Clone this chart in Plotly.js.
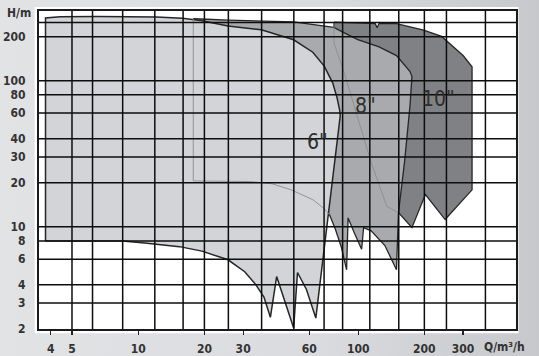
<!DOCTYPE html>
<html><head><meta charset="utf-8">
<script src="https://cdn.plot.ly/plotly-3.0.1.min.js"></script>
<style>html,body{margin:0;padding:0;background:#dcdde0;}#chart{width:539px;height:356px;}</style>
</head><body><div id="chart"></div>
<script>
// Operating range of 6" pumps: flow Q (m3/h), head H (m)
const q6 = [3.79, 3.79, 4.41, 6.56, 12.1, 15.9, 19.5, 25.6, 36.3, 50.9, 62.2, 70.1, 76.6, 80.2, 82.4, 82.9, 64.2, 58.2, 53.0, 50.9, 42.6, 39.9, 37.3, 34.3, 30.5, 25.6, 19.5, 15.4, 10.7, 8.47, 3.79];
const h6 = [8, 268.6, 273.5, 274.7, 273.1, 267.4, 257.5, 237.1, 223.2, 190.5, 156.7, 125.9, 96.6, 76.3, 63.0, 57.5, 2.37, 3.72, 4.86, 2.03, 4.56, 2.40, 3.30, 4.0, 4.92, 5.94, 6.81, 7.31, 7.74, 8, 8];
// Operating range of 8" pumps
const q8 = [17.8, 17.8, 32.1, 40.6, 49.6, 62.3, 70.1, 74.1, 78.8, 83.8, 88.6, 90.0, 95.7, 103.7, 105.9, 114.6, 132.3, 149.4, 152.5, 162.6, 172.2, 175.6, 172.2, 149.4, 124.5, 99.7, 86.1, 77.5, 50.9, 36.3, 25.6, 20.6, 17.8];
const h8 = [265.4, 20.6, 20.4, 19.7, 17.9, 15.3, 13.3, 12.1, 9.62, 7.27, 5.07, 11.5, 9.21, 7.02, 9.86, 9.38, 7.44, 5.07, 12.5, 27.9, 68.2, 106.7, 115.6, 148.6, 170.2, 191.1, 213.3, 231.8, 252.9, 255.6, 259.5, 263.4, 265.4];
// Operating range of 10" pumps
const q10 = [77.6, 94.0, 119.6, 122.0, 124.5, 149.4, 198.4, 239.5, 263.0, 300, 329.5, 329.5, 248.6, 202.2, 175.6, 152.5, 135.0, 114.3, 96.8, 86.1, 77.6, 77.6];
const h10 = [251.8, 250.0, 245.5, 230.0, 246.9, 245.5, 222.2, 200.9, 177.3, 148.6, 124.6, 17.9, 11.2, 16.6, 9.86, 12.5, 13.8, 27.9, 63.2, 115.6, 181.6, 251.8];

const sizeLabels = ['6"', '8"', '10"'];
const labelQ = [65, 107.6, 231.6];
const labelH = [38.3, 67.1, 75.0];

const xTicks = [4, 5, 10, 20, 30, 60, 100, 200, 300];
const xTickText = ['4', '5', '10', '20', '30', '60', '100', '200', '300'];
const yTicks = [2, 3, 4, 6, 8, 10, 20, 30, 40, 60, 80, 100, 200];
const yTickText = ['2', '3', '4', '6', '8', '10', '20', '30', '40', '60', '80', '100', '200'];
const xGrid = [5, 6.2, 8.5, 11.9, 16, 20, 25.7, 36.4, 51, 70, 85, 113, 153, 200, 252, 379];
const yGrid = [3, 4, 6, 8, 10, 20, 30, 40, 60, 80, 100, 200, 250];

const FONT = "'Liberation Sans Narrow', 'DejaVu Sans Condensed', 'Roboto', sans-serif";
const edge = '#262626';

const traces = [
  {x: q10, y: h10, mode: 'lines', fill: 'toself', fillcolor: '#808184', line: {color: edge, width: 1.3}, hoverinfo: 'skip'},
  {x: q8, y: h8, mode: 'lines', fill: 'toself', fillcolor: '#a9aaad', line: {color: edge, width: 1.3}, hoverinfo: 'skip'},
  {x: q6, y: h6, mode: 'lines', fill: 'toself', fillcolor: '#d3d4d7', line: {color: edge, width: 1.5}, hoverinfo: 'skip'},
  {x: q8.slice(0, 8), y: h8.slice(0, 8), mode: 'lines', line: {color: '#8c8c8f', width: 0.9}, hoverinfo: 'skip'},
  {x: q10.slice(15), y: h10.slice(15), mode: 'lines', line: {color: '#8c8c8f', width: 0.9}, hoverinfo: 'skip'}
];

const shapes = [
  {type: 'rect', xref: 'paper', yref: 'paper', x0: -4.3/477, x1: 1 + 2.5/477, y0: -4.3/318, y1: 1 + 4/318, fillcolor: '#ffffff', line: {width: 0}, layer: 'below'}
];
xGrid.forEach(v => shapes.push({type: 'line', xref: 'x', yref: 'paper', x0: v, x1: v, y0: 0, y1: 1, line: {color: '#0d0d0d', width: 1.5}, layer: 'above'}));
yGrid.forEach(v => shapes.push({type: 'line', xref: 'paper', yref: 'y', x0: 0, x1: 1, y0: v, y1: v, line: {color: '#0d0d0d', width: 1.5}, layer: 'above'}));

const annotations = sizeLabels.map((t, i) => ({
  text: t, x: Math.log10(labelQ[i]), y: Math.log10(labelH[i]), xref: 'x', yref: 'y',
  showarrow: false, font: {family: FONT, size: 21, color: '#2e2e2e'}
}));
annotations.push({text: 'H/m', xref: 'paper', yref: 'paper', x: -6/477, y: 1 - 2/318, xanchor: 'right', yanchor: 'middle', showarrow: false, font: {family: FONT, size: 12, color: '#333', weight: 'bold'}});
annotations.push({text: 'Q/m³/h', xref: 'paper', yref: 'paper', x: 465/477, y: -18/318, xanchor: 'center', yanchor: 'middle', showarrow: false, font: {family: FONT, size: 12, color: '#333', weight: 'bold'}});

const bgSvg = "<svg xmlns='http://www.w3.org/2000/svg' width='539' height='356' preserveAspectRatio='none'>" +
  "<defs><linearGradient id='g' x1='0' y1='0' x2='1' y2='0'>" +
  "<stop offset='0' stop-color='#e2e3e5'/><stop offset='0.6' stop-color='#dadbde'/><stop offset='1' stop-color='#c6c8cb'/>" +
  "</linearGradient></defs><rect width='539' height='356' fill='url(#g)'/></svg>";

const axisBase = {
  type: 'log', showgrid: false, zeroline: false, showline: true, mirror: true,
  linecolor: '#1a1a1a', linewidth: 2, fixedrange: true,
  tickfont: {family: FONT, size: 12, color: '#333', weight: 'bold'}
};

const layout = {
  width: 539, height: 356,
  margin: {l: 39, r: 23, t: 11, b: 27, pad: 0},
  paper_bgcolor: '#dcdde0', plot_bgcolor: '#ffffff',
  showlegend: false,
  images: [{source: 'data:image/svg+xml;charset=utf-8,' + encodeURIComponent(bgSvg), xref: 'paper', yref: 'paper',
            x: -39/477, y: 1 + 11/318, sizex: 539/477, sizey: 356/318, sizing: 'stretch', xanchor: 'left', yanchor: 'top', layer: 'below'}],
  xaxis: Object.assign({}, axisBase, {range: [Math.log10(3.54), Math.log10(522)], tickmode: 'array', tickvals: xTicks, ticktext: xTickText, ticks: 'outside', ticklen: 4, tickwidth: 1.2, tickcolor: '#222', ticklabelstandoff: 4}),
  yaxis: Object.assign({}, axisBase, {range: [Math.log10(1.995), Math.log10(300)], tickmode: 'array', tickvals: yTicks, ticktext: yTickText, ticks: '', ticklabelstandoff: 9}),
  shapes: shapes,
  annotations: annotations
};

Plotly.newPlot('chart', traces, layout, {displayModeBar: false, staticPlot: true});
</script>
</body></html>
